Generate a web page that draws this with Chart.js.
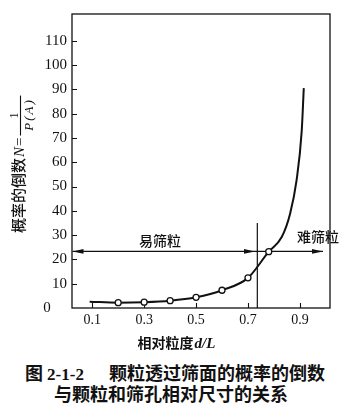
<!DOCTYPE html>
<html lang="zh">
<head>
<meta charset="utf-8">
<script src="https://cdn.jsdelivr.net/npm/chart.js@4"></script>
<style>
  html, body { margin: 0; padding: 0; background: #fff; }
  #wrap { position: relative; width: 348px; height: 417px; overflow: hidden; }
  #chart { position: absolute; left: 0; top: 0; }
  .cap {
    position: absolute; left: 0; width: 348px; line-height: 21px;
    font-family: 'Noto Sans CJK SC', sans-serif; font-weight: 700; font-size: 18px;
    color: #111; white-space: nowrap;
  }
  .cap .num { font-family: 'Liberation Serif', serif; font-size: 17px; }
  #cap1 { top: 362px; padding-left: 25px; }
  #cap2 { top: 383px; text-align: center; width: 342px; }
</style>
</head>
<body>
<div id="wrap">
  <canvas id="chart" width="348" height="352"></canvas>
  <div class="cap" id="cap1">图 <span class="num">2-1-2</span><span style="display:inline-block;width:25px"></span>颗粒透过筛面的概率的倒数</div>
  <div class="cap" id="cap2">与颗粒和筛孔相对尺寸的关系</div>
</div>
<script>
// ── 曲线数据 (相对粒度 d/L, 概率倒数 N) ──
const curveX  = [0.09, 0.2, 0.3, 0.4, 0.5, 0.6, 0.7, 0.78, 0.83, 0.862, 0.887, 0.907, 0.915];
const curveY  = [2.6, 2.2, 2.4, 3.0, 4.4, 7.3, 12.4, 23.2, 29.2, 38.7, 52.4, 72.8, 90.5];

// ── 试验点 ──
const markerX = [0.2, 0.3, 0.4, 0.5, 0.6, 0.7, 0.78];
const markerY = [2.2, 2.4, 3.0, 4.4, 7.3, 12.4, 23.2];

// ── 刻度 ──
const xTicks = [0.1, 0.3, 0.5, 0.7, 0.9];
const yTicks = [0, 10, 20, 30, 40, 50, 60, 70, 80, 90, 100, 110];

// ── 易筛粒 / 难筛粒 分界 ──
const boundaryX   = 0.736;
const boundaryTop = 35;
const arrowY      = 23.3;
const arrowSpan   = [0.024, 0.989];
const arrowTips   = [0.024, 0.727, 0.989];
const arrowDirs   = [-1, 1, 1];
const zoneNames   = ['易筛粒', '难筛粒'];
const zoneX       = [0.361, 0.970];
const zoneY       = [27.8, 29.4];

const INK = '#111';
const SERIF = "'Liberation Serif', 'Times New Roman', serif";
const CJK = "'Noto Sans CJK SC', sans-serif";

const pts = (xs, ys) => xs.map((x, i) => ({ x, y: ys[i] }));

// ── 边框、向内刻度、箭头和文字 ──
const decorPlugin = {
  id: 'decor',
  beforeDatasetsDraw(chart) {
    const { ctx, chartArea: a, scales: { x, y } } = chart;
    ctx.save();
    ctx.strokeStyle = INK;
    ctx.lineWidth = 1.3;
    ctx.strokeRect(a.left, a.top, a.right - a.left, a.bottom - a.top);
    ctx.lineWidth = 1.1;
    ctx.beginPath();
    yTicks.filter(v => v > 0).forEach(v => {
      const py = Math.round(y.getPixelForValue(v)) + 0.5;
      ctx.moveTo(a.left, py); ctx.lineTo(a.left + 5, py);
    });
    xTicks.forEach(v => {
      const px = Math.round(x.getPixelForValue(v)) + 0.5;
      ctx.moveTo(px, a.bottom); ctx.lineTo(px, a.bottom - 5);
    });
    ctx.stroke();
    ctx.restore();
  },
  afterDraw(chart) {
    const { ctx, chartArea: a, scales: { x, y } } = chart;
    ctx.save();
    ctx.fillStyle = INK;

    // 箭头
    const py = y.getPixelForValue(arrowY);
    arrowTips.forEach((v, i) => {
      const px = x.getPixelForValue(v), d = arrowDirs[i];
      ctx.beginPath();
      ctx.moveTo(px, py);
      ctx.lineTo(px - d * 11, py - 2.4);
      ctx.lineTo(px - d * 11, py + 2.4);
      ctx.closePath();
      ctx.fill();
    });

    // 区域名称
    ctx.font = '500 14px ' + CJK;
    ctx.textAlign = 'center';
    ctx.textBaseline = 'middle';
    zoneNames.forEach((t, i) => {
      ctx.fillText(t, x.getPixelForValue(zoneX[i]), y.getPixelForValue(zoneY[i]));
    });

    // 原点 0
    ctx.font = '15px ' + SERIF;
    ctx.fillText('0', 47, a.bottom);

    // 横轴标题: 相对粒度 d/L
    ctx.textAlign = 'left';
    ctx.textBaseline = 'alphabetic';
    const f1 = '700 14px ' + CJK, f2 = 'bold italic 15px ' + SERIF;
    ctx.font = f1; const w1 = ctx.measureText('相对粒度').width;
    ctx.font = f2; const w2 = ctx.measureText('d/L').width;
    let sx = 176 - (w1 + w2) / 2;
    ctx.font = f1; ctx.fillText('相对粒度', sx, 348);
    ctx.font = f2; ctx.fillText('d/L', sx + w1 + 1, 348);

    // 纵轴标题: 概率的倒数 N = 1/P(A)
    ctx.translate(24, 233);
    ctx.rotate(-Math.PI / 2);
    ctx.font = '500 15px ' + CJK;
    ctx.fillText('概率的倒数', 0, 0);
    let cx = ctx.measureText('概率的倒数').width + 1;
    ctx.font = 'italic 15px ' + SERIF;
    ctx.fillText('N', cx, 0);
    cx += ctx.measureText('N').width + 1;
    ctx.font = '15px ' + SERIF;
    ctx.fillText('=', cx, 0);
    cx += ctx.measureText('=').width + 2;
    ctx.lineWidth = 1.1;
    ctx.strokeStyle = INK;
    ctx.beginPath();
    ctx.moveTo(cx, -3.5); ctx.lineTo(cx + 40, -3.5);
    ctx.stroke();
    ctx.textAlign = 'center';
    ctx.font = '12px ' + SERIF;
    ctx.fillText('1', cx + 20, -6);
    ctx.font = 'italic 13px ' + SERIF;
    ctx.letterSpacing = '2px';
    ctx.fillText('P(A)', cx + 21, 9);
    ctx.restore();
  }
};

new Chart(document.getElementById('chart'), {
  type: 'line',
  data: {
    datasets: [
      {
        data: pts(markerX, markerY),
        showLine: false,
        pointRadius: 3,
        pointBorderWidth: 1.3,
        pointBackgroundColor: '#fff',
        pointBorderColor: INK
      },
      {
        data: pts(curveX, curveY),
        borderColor: INK,
        borderWidth: 2,
        pointRadius: 0,
        cubicInterpolationMode: 'monotone'
      },
      {
        data: [{ x: boundaryX, y: 0 }, { x: boundaryX, y: boundaryTop }],
        borderColor: INK,
        borderWidth: 1.2,
        pointRadius: 0
      },
      {
        data: [{ x: arrowSpan[0], y: arrowY }, { x: arrowSpan[1], y: arrowY }],
        borderColor: INK,
        borderWidth: 1.2,
        pointRadius: 0
      }
    ]
  },
  options: {
    responsive: false,
    animation: false,
    events: [],
    layout: { padding: { top: 12, right: 18, left: 0, bottom: 0 } },
    plugins: { legend: { display: false }, tooltip: { enabled: false } },
    scales: {
      x: {
        type: 'linear',
        min: 0.022,
        max: 1.016,
        afterBuildTicks: s => { s.ticks = xTicks.map(v => ({ value: v })); },
        afterFit: s => { s.height = 44; },
        grid: { display: false, drawTicks: false },
        border: { display: false },
        ticks: {
          padding: 4,
          color: INK,
          autoSkip: false,
          maxRotation: 0,
          font: { family: SERIF, size: 14 },
          callback: v => v.toFixed(1)
        }
      },
      y: {
        type: 'linear',
        min: 0,
        max: 121,
        afterBuildTicks: s => { s.ticks = yTicks.map(v => ({ value: v })); },
        afterFit: s => { s.width = 72; },
        grid: { display: false, drawTicks: false },
        border: { display: false },
        ticks: {
          padding: 5,
          color: INK,
          autoSkip: false,
          font: { family: SERIF, size: 15 },
          callback: v => (v === 0 ? '' : String(v))
        }
      }
    }
  },
  plugins: [decorPlugin]
});
</script>
</body>
</html>
